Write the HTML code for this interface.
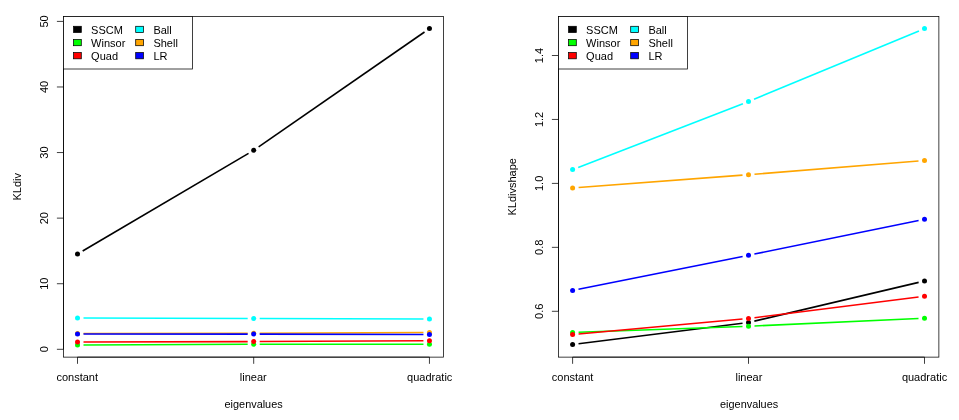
<!DOCTYPE html>
<html><head><meta charset="utf-8"><title>KL divergence plots</title>
<style>
html,body{margin:0;padding:0;background:#fff;}
svg{display:block;will-change:transform;}
text{font-family:"Liberation Sans",sans-serif;font-size:11px;fill:#000;}
</style></head>
<body>
<svg width="959" height="420" viewBox="0 0 959 420">
<rect x="0" y="0" width="959" height="420" fill="#fff"/>
<g>
<line x1="82.67" y1="250.96" x2="248.53" y2="153.34" stroke="#000000" stroke-width="1.6"/>
<line x1="258.63" y1="146.88" x2="424.52" y2="32.02" stroke="#000000" stroke-width="1.6"/>
<circle cx="77.5" cy="254.0" r="2.5" fill="#000000"/>
<circle cx="253.7" cy="150.3" r="2.5" fill="#000000"/>
<circle cx="429.45" cy="28.6" r="2.5" fill="#000000"/>
<line x1="83.50" y1="344.98" x2="247.70" y2="344.32" stroke="#00FF00" stroke-width="1.6"/>
<line x1="259.70" y1="344.30" x2="423.45" y2="344.25" stroke="#00FF00" stroke-width="1.6"/>
<circle cx="77.5" cy="345" r="2.5" fill="#00FF00"/>
<circle cx="253.7" cy="344.3" r="2.5" fill="#00FF00"/>
<circle cx="429.45" cy="344.25" r="2.5" fill="#00FF00"/>
<line x1="83.50" y1="341.99" x2="247.70" y2="341.61" stroke="#FF0000" stroke-width="1.6"/>
<line x1="259.70" y1="341.57" x2="423.45" y2="340.78" stroke="#FF0000" stroke-width="1.6"/>
<circle cx="77.5" cy="342" r="2.5" fill="#FF0000"/>
<circle cx="253.7" cy="341.6" r="2.5" fill="#FF0000"/>
<circle cx="429.45" cy="340.75" r="2.5" fill="#FF0000"/>
<line x1="83.50" y1="318.02" x2="247.70" y2="318.48" stroke="#00FFFF" stroke-width="1.6"/>
<line x1="259.70" y1="318.52" x2="423.45" y2="318.98" stroke="#00FFFF" stroke-width="1.6"/>
<circle cx="77.5" cy="318.0" r="2.5" fill="#00FFFF"/>
<circle cx="253.7" cy="318.5" r="2.5" fill="#00FFFF"/>
<circle cx="429.45" cy="319.0" r="2.5" fill="#00FFFF"/>
<line x1="83.50" y1="333.49" x2="247.70" y2="333.21" stroke="#FFA500" stroke-width="1.6"/>
<line x1="259.70" y1="333.18" x2="423.45" y2="332.52" stroke="#FFA500" stroke-width="1.6"/>
<circle cx="77.5" cy="333.5" r="2.5" fill="#FFA500"/>
<circle cx="253.7" cy="333.2" r="2.5" fill="#FFA500"/>
<circle cx="429.45" cy="332.5" r="2.5" fill="#FFA500"/>
<line x1="83.50" y1="334.00" x2="247.70" y2="334.10" stroke="#0000FF" stroke-width="1.6"/>
<line x1="259.70" y1="334.11" x2="423.45" y2="334.49" stroke="#0000FF" stroke-width="1.6"/>
<circle cx="77.5" cy="334.0" r="2.5" fill="#0000FF"/>
<circle cx="253.7" cy="334.1" r="2.5" fill="#0000FF"/>
<circle cx="429.45" cy="334.5" r="2.5" fill="#0000FF"/>
<rect x="63.5" y="16.5" width="380.0" height="340.625" fill="none" stroke="#000" stroke-width="0.75"/>
<line x1="77.5" y1="357.125" x2="429.45" y2="357.125" stroke="#000" stroke-width="0.75"/>
<line x1="63.5" y1="349.3" x2="63.5" y2="21.4" stroke="#000" stroke-width="0.75"/>
<line x1="77.5" y1="357.125" x2="77.5" y2="363.825" stroke="#000" stroke-width="0.75"/>
<line x1="253.7" y1="357.125" x2="253.7" y2="363.825" stroke="#000" stroke-width="0.75"/>
<line x1="429.45" y1="357.125" x2="429.45" y2="363.825" stroke="#000" stroke-width="0.75"/>
<text transform="translate(77.25,381.0) scale(1.0,1)" text-anchor="middle">constant</text>
<text transform="translate(253.3,381.0) scale(1.0,1)" text-anchor="middle">linear</text>
<text transform="translate(429.7,381.0) scale(1.0,1)" text-anchor="middle">quadratic</text>
<text transform="translate(253.6,408.0) scale(0.99,1)" text-anchor="middle">eigenvalues</text>
<line x1="56.9" y1="349.3" x2="63.5" y2="349.3" stroke="#000" stroke-width="0.75"/>
<text transform="translate(47.8,349.3) rotate(-90) scale(1.0,1)" text-anchor="middle">0</text>
<line x1="56.9" y1="283.72" x2="63.5" y2="283.72" stroke="#000" stroke-width="0.75"/>
<text transform="translate(47.8,283.72) rotate(-90) scale(1.0,1)" text-anchor="middle">10</text>
<line x1="56.9" y1="218.14" x2="63.5" y2="218.14" stroke="#000" stroke-width="0.75"/>
<text transform="translate(47.8,218.14) rotate(-90) scale(1.0,1)" text-anchor="middle">20</text>
<line x1="56.9" y1="152.56" x2="63.5" y2="152.56" stroke="#000" stroke-width="0.75"/>
<text transform="translate(47.8,152.56) rotate(-90) scale(1.0,1)" text-anchor="middle">30</text>
<line x1="56.9" y1="86.98" x2="63.5" y2="86.98" stroke="#000" stroke-width="0.75"/>
<text transform="translate(47.8,86.98) rotate(-90) scale(1.0,1)" text-anchor="middle">40</text>
<line x1="56.9" y1="21.4" x2="63.5" y2="21.4" stroke="#000" stroke-width="0.75"/>
<text transform="translate(47.8,21.4) rotate(-90) scale(1.0,1)" text-anchor="middle">50</text>
<text transform="translate(21.2,186.8125) rotate(-90) scale(1.0,1)" text-anchor="middle">KLdiv</text>
<rect x="63.5" y="16.5" width="129.0" height="52.5" fill="#fff" stroke="#000" stroke-width="0.75"/>
<rect x="73.60" y="26.30" width="7.7" height="6.2" fill="#000000" stroke="#000" stroke-width="0.75"/>
<text transform="translate(91.1,34.0) scale(1.0,1)" text-anchor="start">SSCM</text>
<rect x="73.60" y="39.50" width="7.7" height="6.2" fill="#00FF00" stroke="#000" stroke-width="0.75"/>
<text transform="translate(91.1,47.0) scale(1.0,1)" text-anchor="start">Winsor</text>
<rect x="73.60" y="52.60" width="7.7" height="6.2" fill="#FF0000" stroke="#000" stroke-width="0.75"/>
<text transform="translate(91.1,60.0) scale(1.0,1)" text-anchor="start">Quad</text>
<rect x="135.70" y="26.30" width="7.7" height="6.2" fill="#00FFFF" stroke="#000" stroke-width="0.75"/>
<text transform="translate(153.4,34.0) scale(1.0,1)" text-anchor="start">Ball</text>
<rect x="135.70" y="39.50" width="7.7" height="6.2" fill="#FFA500" stroke="#000" stroke-width="0.75"/>
<text transform="translate(153.4,47.0) scale(1.0,1)" text-anchor="start">Shell</text>
<rect x="135.70" y="52.60" width="7.7" height="6.2" fill="#0000FF" stroke="#000" stroke-width="0.75"/>
<text transform="translate(153.4,60.0) scale(1.0,1)" text-anchor="start">LR</text>
</g>
<g>
<line x1="578.55" y1="343.76" x2="742.55" y2="323.24" stroke="#000000" stroke-width="1.6"/>
<line x1="754.34" y1="321.12" x2="918.66" y2="282.38" stroke="#000000" stroke-width="1.6"/>
<circle cx="572.6" cy="344.5" r="2.5" fill="#000000"/>
<circle cx="748.5" cy="322.5" r="2.5" fill="#000000"/>
<circle cx="924.5" cy="281" r="2.5" fill="#000000"/>
<line x1="578.60" y1="332.29" x2="742.50" y2="326.46" stroke="#00FF00" stroke-width="1.6"/>
<line x1="754.49" y1="325.98" x2="918.51" y2="318.52" stroke="#00FF00" stroke-width="1.6"/>
<circle cx="572.6" cy="332.5" r="2.5" fill="#00FF00"/>
<circle cx="748.5" cy="326.25" r="2.5" fill="#00FF00"/>
<circle cx="924.5" cy="318.25" r="2.5" fill="#00FF00"/>
<line x1="578.58" y1="333.96" x2="742.52" y2="319.04" stroke="#FF0000" stroke-width="1.6"/>
<line x1="754.45" y1="317.75" x2="918.55" y2="297.00" stroke="#FF0000" stroke-width="1.6"/>
<circle cx="572.6" cy="334.5" r="2.5" fill="#FF0000"/>
<circle cx="748.5" cy="318.5" r="2.5" fill="#FF0000"/>
<circle cx="924.5" cy="296.25" r="2.5" fill="#FF0000"/>
<line x1="578.20" y1="167.43" x2="742.90" y2="103.67" stroke="#00FFFF" stroke-width="1.6"/>
<line x1="754.04" y1="99.20" x2="918.96" y2="30.90" stroke="#00FFFF" stroke-width="1.6"/>
<circle cx="572.6" cy="169.6" r="2.5" fill="#00FFFF"/>
<circle cx="748.5" cy="101.5" r="2.5" fill="#00FFFF"/>
<circle cx="924.5" cy="28.6" r="2.5" fill="#00FFFF"/>
<line x1="578.58" y1="187.55" x2="742.52" y2="175.15" stroke="#FFA500" stroke-width="1.6"/>
<line x1="754.48" y1="174.22" x2="918.52" y2="160.98" stroke="#FFA500" stroke-width="1.6"/>
<circle cx="572.6" cy="188" r="2.5" fill="#FFA500"/>
<circle cx="748.5" cy="174.7" r="2.5" fill="#FFA500"/>
<circle cx="924.5" cy="160.5" r="2.5" fill="#FFA500"/>
<line x1="578.48" y1="289.27" x2="742.62" y2="256.43" stroke="#0000FF" stroke-width="1.6"/>
<line x1="754.38" y1="254.05" x2="918.62" y2="220.45" stroke="#0000FF" stroke-width="1.6"/>
<circle cx="572.6" cy="290.45" r="2.5" fill="#0000FF"/>
<circle cx="748.5" cy="255.25" r="2.5" fill="#0000FF"/>
<circle cx="924.5" cy="219.25" r="2.5" fill="#0000FF"/>
<rect x="558.5" y="16.5" width="380.375" height="340.625" fill="none" stroke="#000" stroke-width="0.75"/>
<line x1="572.6" y1="357.125" x2="924.5" y2="357.125" stroke="#000" stroke-width="0.75"/>
<line x1="558.5" y1="311.3" x2="558.5" y2="55.5" stroke="#000" stroke-width="0.75"/>
<line x1="572.6" y1="357.125" x2="572.6" y2="363.825" stroke="#000" stroke-width="0.75"/>
<line x1="748.5" y1="357.125" x2="748.5" y2="363.825" stroke="#000" stroke-width="0.75"/>
<line x1="924.5" y1="357.125" x2="924.5" y2="363.825" stroke="#000" stroke-width="0.75"/>
<text transform="translate(572.6,381.0) scale(1.0,1)" text-anchor="middle">constant</text>
<text transform="translate(748.9,381.0) scale(1.0,1)" text-anchor="middle">linear</text>
<text transform="translate(924.5,381.0) scale(1.0,1)" text-anchor="middle">quadratic</text>
<text transform="translate(749.1,408.0) scale(0.99,1)" text-anchor="middle">eigenvalues</text>
<line x1="551.9" y1="311.3" x2="558.5" y2="311.3" stroke="#000" stroke-width="0.75"/>
<text transform="translate(543.0,311.3) rotate(-90) scale(1.0,1)" text-anchor="middle">0.6</text>
<line x1="551.9" y1="247.35" x2="558.5" y2="247.35" stroke="#000" stroke-width="0.75"/>
<text transform="translate(543.0,247.35) rotate(-90) scale(1.0,1)" text-anchor="middle">0.8</text>
<line x1="551.9" y1="183.4" x2="558.5" y2="183.4" stroke="#000" stroke-width="0.75"/>
<text transform="translate(543.0,183.4) rotate(-90) scale(1.0,1)" text-anchor="middle">1.0</text>
<line x1="551.9" y1="119.45" x2="558.5" y2="119.45" stroke="#000" stroke-width="0.75"/>
<text transform="translate(543.0,119.45) rotate(-90) scale(1.0,1)" text-anchor="middle">1.2</text>
<line x1="551.9" y1="55.5" x2="558.5" y2="55.5" stroke="#000" stroke-width="0.75"/>
<text transform="translate(543.0,55.5) rotate(-90) scale(1.0,1)" text-anchor="middle">1.4</text>
<text transform="translate(516.3,186.8125) rotate(-90) scale(1.0,1)" text-anchor="middle">KLdivshape</text>
<rect x="558.5" y="16.5" width="129.0" height="52.5" fill="#fff" stroke="#000" stroke-width="0.75"/>
<rect x="568.60" y="26.30" width="7.7" height="6.2" fill="#000000" stroke="#000" stroke-width="0.75"/>
<text transform="translate(586.1,34.0) scale(1.0,1)" text-anchor="start">SSCM</text>
<rect x="568.60" y="39.50" width="7.7" height="6.2" fill="#00FF00" stroke="#000" stroke-width="0.75"/>
<text transform="translate(586.1,47.0) scale(1.0,1)" text-anchor="start">Winsor</text>
<rect x="568.60" y="52.60" width="7.7" height="6.2" fill="#FF0000" stroke="#000" stroke-width="0.75"/>
<text transform="translate(586.1,60.0) scale(1.0,1)" text-anchor="start">Quad</text>
<rect x="630.70" y="26.30" width="7.7" height="6.2" fill="#00FFFF" stroke="#000" stroke-width="0.75"/>
<text transform="translate(648.4,34.0) scale(1.0,1)" text-anchor="start">Ball</text>
<rect x="630.70" y="39.50" width="7.7" height="6.2" fill="#FFA500" stroke="#000" stroke-width="0.75"/>
<text transform="translate(648.4,47.0) scale(1.0,1)" text-anchor="start">Shell</text>
<rect x="630.70" y="52.60" width="7.7" height="6.2" fill="#0000FF" stroke="#000" stroke-width="0.75"/>
<text transform="translate(648.4,60.0) scale(1.0,1)" text-anchor="start">LR</text>
</g>
</svg>
</body></html>
